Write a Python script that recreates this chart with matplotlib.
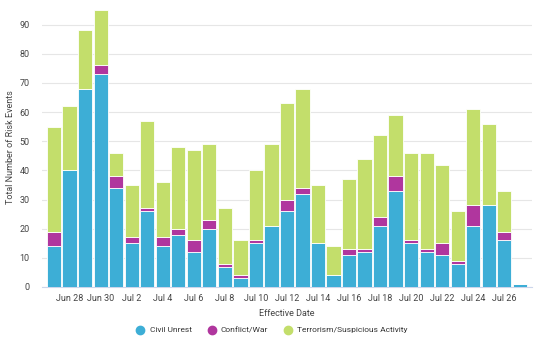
import pandas as pd
import matplotlib.pyplot as plt
from matplotlib.lines import Line2D
import numpy as np

plt.rcParams["font.family"] = ["Roboto", "DejaVu Sans"]

# Data
dates = pd.date_range("2023-06-27", "2023-07-27", freq="D")
civil_unrest = [14, 40, 68, 73, 34, 15, 26, 14, 18, 12, 20, 7, 3, 15, 21,
                26, 32, 15, 4, 11, 12, 21, 33, 15, 12, 11, 8, 21, 28, 16, 1]
conflict_war = [5, 0, 0, 3, 4, 2, 1, 3, 2, 4, 3, 1, 1, 1, 0,
                4, 2, 0, 0, 2, 1, 3, 5, 1, 1, 4, 1, 7, 0, 3, 0]
terrorism = [36, 22, 20, 19, 8, 18, 30, 19, 28, 31, 26, 19, 12, 24, 28,
             33, 34, 20, 10, 24, 31, 28, 21, 30, 33, 27, 17, 33, 28, 14, 0]

series_names = ["Civil Unrest", "Conflict/War", "Terrorism/Suspicious Activity"]
colors = ["#3DAED6", "#B0369E", "#C3DE6B"]

fig = plt.figure(figsize=(5.4, 3.5), dpi=100)
ax = fig.add_axes([0.078, 0.18, 0.907, 0.8])

x = np.arange(len(dates))
cu = np.array(civil_unrest)
cw = np.array(conflict_war)
te = np.array(terrorism)

kw = dict(width=0.92, edgecolor="white", linewidth=0.6, zorder=3)
ax.bar(x, cu, color=colors[0], **kw)
ax.bar(x, cw, bottom=cu, color=colors[1], **kw)
ax.bar(x, te, bottom=cu + cw, color=colors[2], **kw)

ax.set_xlim(-0.77, 30.78)
ax.set_ylim(0, 96)
ax.set_yticks(range(0, 91, 10))
ax.grid(axis="y", color="#e6e6e6", linewidth=0.8, zorder=0)

ax.set_xticks(x[1::2])
ax.set_xticklabels([d.strftime("%b %-d") for d in dates[1::2]])

for s in ["top", "right", "left"]:
    ax.spines[s].set_visible(False)
ax.spines["bottom"].set_color("#ccd6eb")
ax.tick_params(axis="both", length=0, labelsize=6.5, colors="#444444")
ax.tick_params(axis="x", pad=5)
ax.tick_params(axis="y", pad=9)

ax.set_xlabel("Effective Date", fontsize=6.5, color="#444444", labelpad=4)
ax.set_ylabel("Total Number of Risk Events", fontsize=6.5, color="#444444", labelpad=3)

handles = [Line2D([0], [0], marker="o", linestyle="", markersize=6,
                  markerfacecolor=c, markeredgecolor=c) for c in colors]
leg = fig.legend(handles, series_names, loc="center", bbox_to_anchor=(0.5, 0.057),
                 ncol=3, frameon=False, fontsize=6, handletextpad=0.1,
                 columnspacing=1.4)
for t in leg.get_texts():
    t.set_color("#333333")

plt.savefig("out.png", dpi=100)
plt.close()
